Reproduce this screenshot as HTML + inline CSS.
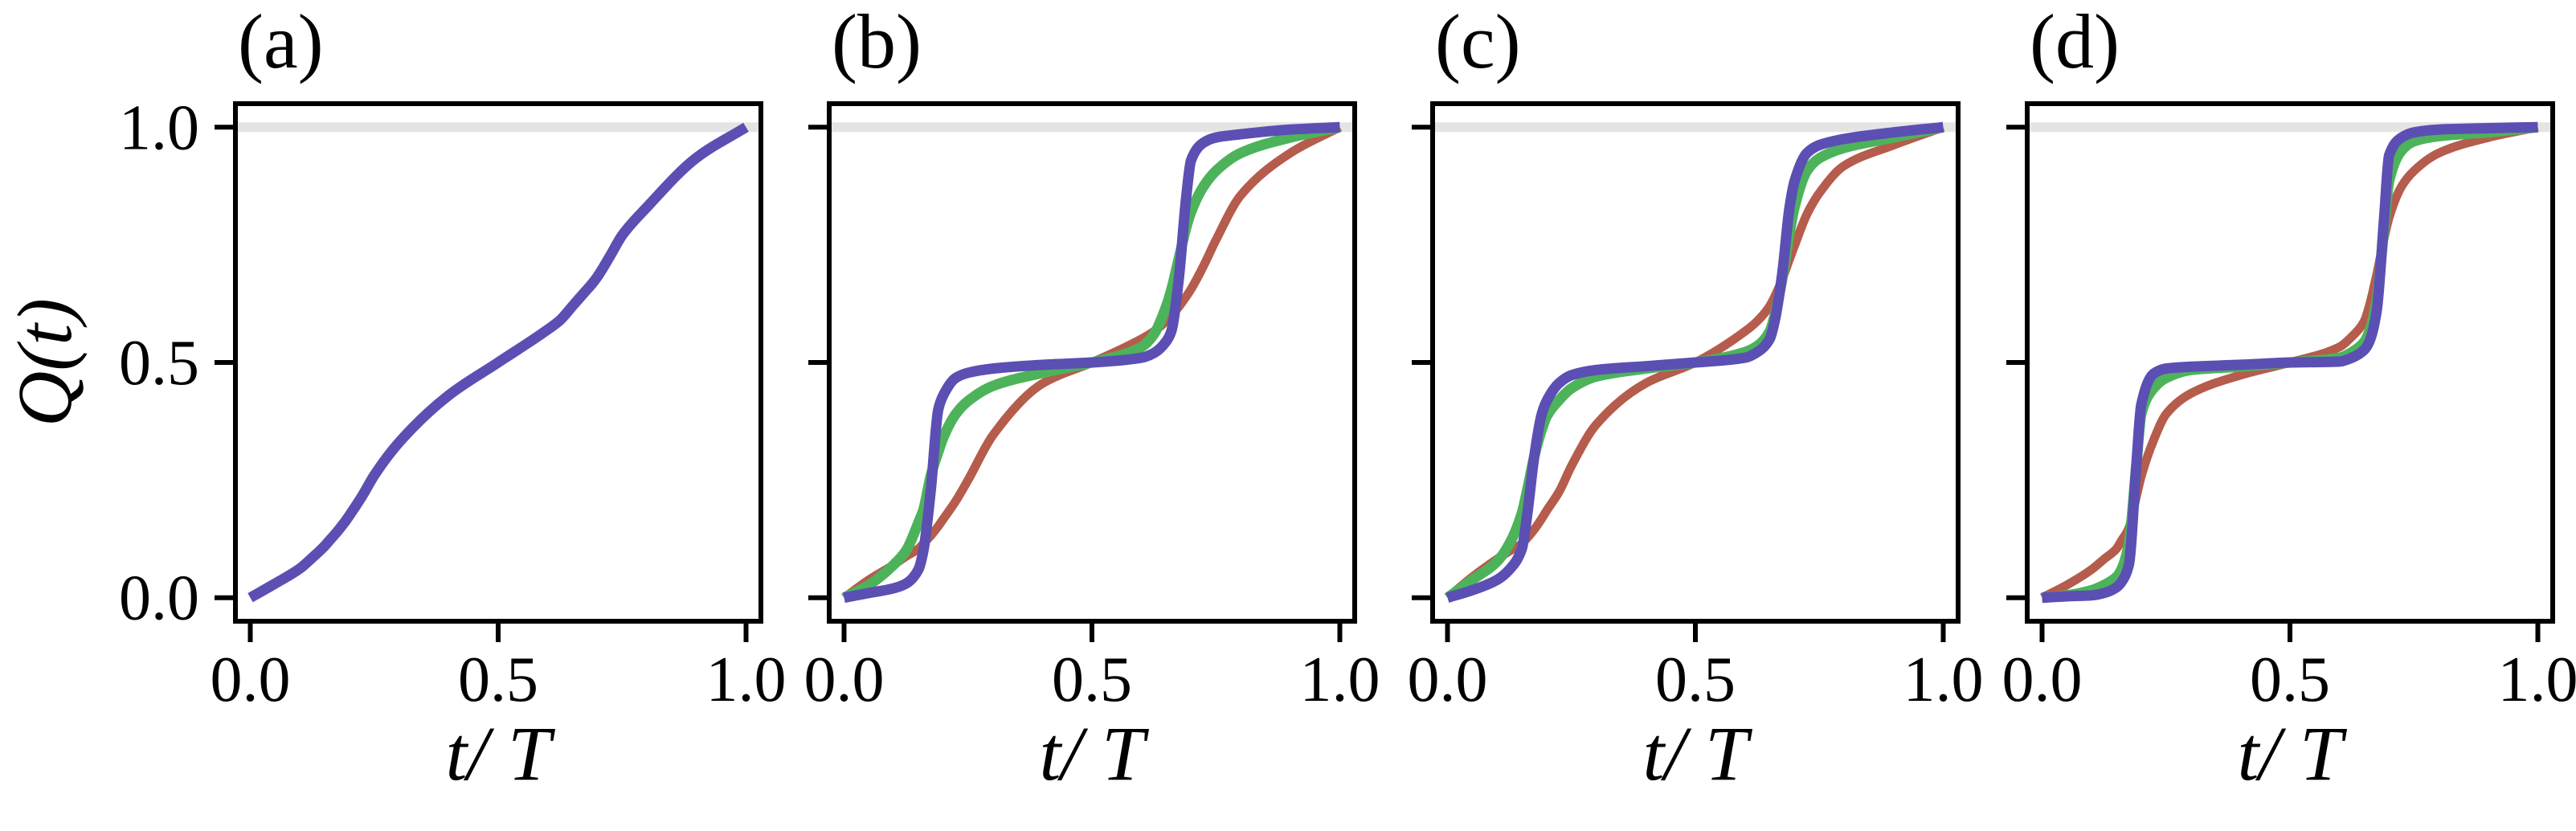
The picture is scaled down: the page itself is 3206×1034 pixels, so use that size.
<!DOCTYPE html>
<html><head><meta charset="utf-8"><style>
html,body{margin:0;padding:0;background:#fff;}
svg{display:block;}
text{font-family:"Liberation Serif",serif;fill:#000;}
</style></head><body>
<svg id="chart" width="3206" height="1034" viewBox="0 0 3206 1034" xmlns="http://www.w3.org/2000/svg"></svg>
<script>
const tGrid=[0,.05,.1,.125,.15,.16,.175,.19,.2,.225,.25,.3,.4,.5,.6,.625,.65,.66,.675,.69,.7,.725,.75,.8,.9,1];
const xTicks=[0,0.5,1];
const xTickLabels=["0.0","0.5","1.0"];
const yTicks=[0,0.5,1];
const yTickLabels=["0.0","0.5","1.0"];
const panelLabels=["(a)","(b)","(c)","(d)"];
const seriesNames=["red","green","purple"];
const aPurple=[0,.03,.062,.085,.11,.122,.14,.16,.175,.215,.26,.33,.43,.5,.57,.59,.62,.632,.65,.668,.682,.725,.77,.83,.935,1];
const bRed=[0,.038,.07,.088,.104,.115,.132,.152,.167,.205,.25,.345,.455,.5,.55,.566,.588,.6,.618,.64,.656,.705,.76,.855,.945,1];
const bGreen=[0,.027,.07,.10,.16,.187,.26,.31,.34,.39,.418,.45,.478,.5,.533,.56,.62,.654,.72,.786,.82,.874,.907,.945,.978,1];
const bPurple=[0,.01,.02,.03,.06,.10,.23,.40,.43,.467,.478,.487,.495,.5,.51,.52,.545,.566,.676,.85,.93,.967,.978,.985,.995,1];
const cRed=[0,.044,.082,.099,.115,.126,.145,.168,.185,.225,.28,.368,.456,.5,.566,.588,.62,.64,.676,.72,.748,.815,.86,.918,.962,1];
const cGreen=[0,.038,.077,.115,.18,.225,.30,.357,.385,.42,.445,.47,.487,.5,.522,.535,.566,.6,.676,.775,.83,.907,.934,.956,.978,1];
const cPurple=[0,.016,.038,.06,.104,.17,.30,.39,.418,.456,.473,.484,.492,.5,.51,.522,.55,.588,.687,.83,.885,.945,.962,.975,.989,1];
const dRed=[0,.027,.06,.082,.104,.121,.148,.214,.258,.335,.39,.434,.473,.5,.533,.555,.588,.62,.687,.764,.808,.874,.907,.945,.978,1];
const dGreen=[0,.005,.016,.027,.044,.06,.115,.28,.39,.445,.467,.484,.491,.5,.51,.522,.544,.566,.632,.786,.885,.95,.97,.981,.989,1];
const dPurple=[0,.003,.005,.01,.022,.033,.07,.28,.41,.476,.487,.491,.495,.5,.502,.51,.527,.544,.61,.808,.94,.978,.989,.995,.998,1];

const panelSeries=[[null,null,aPurple],[bRed,bGreen,bPurple],[cRed,cGreen,cPurple],[dRed,dGreen,dPurple]];
const panelLefts=[293,1032,1783,2523];
const W=654, TOP=129, BOT=773;
const colors={red:"#b55c4c",green:"#4db35a",purple:"#5b4fb3"};
const widths={red:11,green:13,purple:13};
const NS="http://www.w3.org/2000/svg";
const svg=document.getElementById('chart');
function mk(tag,attrs,parent){const e=document.createElementNS(NS,tag);for(const k in attrs)e.setAttribute(k,attrs[k]);(parent||svg).appendChild(e);return e;}

function monotone(xs,ys){
  const n=xs.length,d=[],m=new Array(n);
  for(let i=0;i<n-1;i++)d.push((ys[i+1]-ys[i])/(xs[i+1]-xs[i]));
  m[0]=d[0];m[n-1]=d[n-2];
  for(let i=1;i<n-1;i++){
    if(d[i-1]*d[i]<=0){m[i]=0;continue;}
    const h0=xs[i]-xs[i-1],h1=xs[i+1]-xs[i];
    const w1=2*h1+h0,w2=h1+2*h0;
    m[i]=(w1+w2)/(w1/d[i-1]+w2/d[i]);
  }
  return m;
}

panelLefts.forEach((L,p)=>{
  const g=mk('g',{});
  
  
  const xS=v=>L+W*(v+0.03)/1.06;
  const yS=v=>BOT-(BOT-TOP)*(v+0.05)/1.1;
  const band=mk('line',{x1:L,x2:L+W,y1:yS(1),y2:yS(1),stroke:"#e4e4e4","stroke-width":12},g);
  
  
  const ser=panelSeries[p];
  ser.forEach((vals,si)=>{
    if(!vals)return;
    const name=seriesNames[si];
    const m=monotone(tGrid,vals);
    let d="M"+xS(tGrid[0]).toFixed(2)+","+yS(vals[0]).toFixed(2);
    for(let i=0;i<tGrid.length-1;i++){
      const h=tGrid[i+1]-tGrid[i];
      const x1=tGrid[i]+h/3,y1=vals[i]+m[i]*h/3,x2=tGrid[i+1]-h/3,y2=vals[i+1]-m[i+1]*h/3;
      d+=" C"+xS(x1).toFixed(2)+","+yS(y1).toFixed(2)+" "+xS(x2).toFixed(2)+","+yS(y2).toFixed(2)+" "+xS(tGrid[i+1]).toFixed(2)+","+yS(vals[i+1]).toFixed(2);
    }
    const path=mk('path',{d:d,fill:"none",stroke:colors[name],"stroke-width":widths[name],"stroke-linejoin":"round"},g);
    
    
  });
  const frame=mk('rect',{x:L,y:TOP,width:W,height:BOT-TOP,fill:"none",stroke:"#000","stroke-width":6},g);
  
  
  xTicks.forEach((v,i)=>{
    const tk=mk('line',{x1:xS(v),x2:xS(v),y1:BOT,y2:BOT+26,stroke:"#000","stroke-width":6},g);
    
    
    const tl=mk('text',{x:xS(v),y:872,"text-anchor":"middle","font-size":80},g);
    tl.textContent=xTickLabels[i];
    
    
  });
  yTicks.forEach((v,i)=>{
    const tk=mk('line',{x1:L-26,x2:L,y1:yS(v),y2:yS(v),stroke:"#000","stroke-width":6},g);
    
    
    if(p===0){
      const tl=mk('text',{x:248,y:yS(v)+27,"text-anchor":"end","font-size":80},g);
      tl.textContent=yTickLabels[i];
      
      
    }
  });
  const xl=mk('text',{x:L+W/2,y:970,"text-anchor":"middle","font-size":96,"font-style":"italic"},g);
  xl.textContent="t/ T";
  
  
  const pl=mk('text',{x:L+3,y:84,"font-size":96},g);
  pl.textContent=panelLabels[p];
  
  
});
const yl=mk('text',{x:0,y:0,"text-anchor":"middle","font-size":96,"font-style":"italic",transform:"translate(88,451) rotate(-90)"});
yl.textContent="Q(t)";


</script>
</body></html>
